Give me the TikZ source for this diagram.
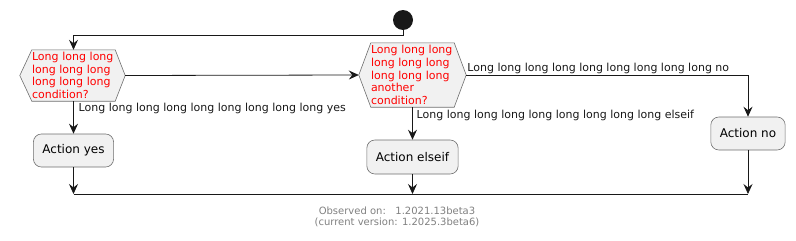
\documentclass[tikz,border=0pt]{standalone}
\usepackage{fontspec}
\setmainfont{DejaVu Sans}
\usetikzlibrary{arrows.meta,positioning,backgrounds}
\definecolor{ink}{HTML}{181818}
\definecolor{boxfill}{HTML}{F1F1F1}
\definecolor{boxline}{HTML}{6E6E6E}

\begin{document}
\begin{tikzpicture}[x=1pt,y=-1pt,>={Stealth[length=10pt,width=9pt,inset=3.5pt]},
    arr/.style={->,ink,line width=0.8pt},
    cond/.style={inner sep=0pt,text width=83pt,align=left,text=red,font=\fontsize{11}{12.7}\selectfont},
    hexline/.style={draw=boxline,fill=boxfill,line width=0.6pt},
    action/.style={draw=boxline,fill=boxfill,line width=0.6pt,rounded corners=8pt,inner xsep=9pt,minimum height=33pt,font=\fontsize{12}{14}\selectfont},
    lbl/.style={inner sep=0pt,ink,font=\fontsize{11}{13}\selectfont}]
  \useasboundingbox (0,0) rectangle (796,241);

  % start
  \node[circle,fill=ink,minimum size=20pt,inner sep=0pt] (s) at (403,20) {};
  \coordinate (split) at (403,35);

  % first condition
  \node[cond,minimum height=51pt] (c1) at (73.5,75.5) {Long long long\\long long long\\long long long\\condition?};
  \coordinate (c1w) at ([xshift=-12pt]c1.west);
  \coordinate (c1e) at ([xshift=10pt]c1.east);

  % second condition
  \node[cond,minimum height=64pt] (c2) at (412.5,75) {Long long long\\long long long\\long long long\\another\\condition?};
  \coordinate (c2w) at ([xshift=-12pt]c2.west);
  \coordinate (c2e) at ([xshift=12pt]c2.east);

  \begin{scope}[on background layer]
    \draw[hexline] (c1.north west) -- (c1.north east) -- (c1e) -- (c1.south east) -- (c1.south west) -- (c1w) -- cycle;
    \draw[hexline] (c2.north west) -- (c2.north east) -- (c2e) -- (c2.south east) -- (c2.south west) -- (c2w) -- cycle;
  \end{scope}

  % actions
  \node[action] (ayes) at (73.5,150.5) {Action yes};
  \node[action,minimum height=34pt] (aelse) at (412.5,157) {Action elseif};
  \node[action] (ano) at (748,133.5) {Action no};

  % merge
  \coordinate (mergeL) at (73.5,194);
  \coordinate (mergeR) at (748,194);

  \draw[arr] (s) -- (split) -| (c1.north);
  \draw[arr] (c1e) -- (c2w);
  \draw[arr] (c1.south) -- (ayes.north);
  \draw[arr] (c2.south) -- (aelse.north);
  \draw[arr] (c2e) -| (ano.north);
  \node[lbl,below right=2pt and 5pt of c1.south] (lyes) {Long long long long long long long long long yes};
  \node[lbl,below right=3pt and 4pt of c2.south] (lelse) {Long long long long long long long long long elseif};
  \node[lbl,above right=1pt and 1pt of c2e] (lno) {Long long long long long long long long long no};

  \draw[arr] (ayes) -- (ayes |- mergeL);
  \draw[arr] (aelse) -- (aelse |- mergeL);
  \draw[arr] (ano) -- (ano |- mergeR);
  \draw[ink,line width=0.8pt] (mergeL) -- (mergeR);

  % footer
  \node[align=center,text=gray,font=\fontsize{10}{11.7}\selectfont] (obs) at (397,217) {Observed on:\ \ \ 1.2021.13beta3\\(current version: 1.2025.3beta6)};
\end{tikzpicture}
\end{document}
